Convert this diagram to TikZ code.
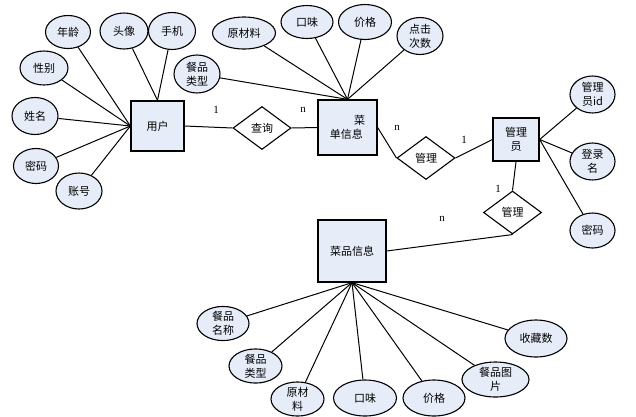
\documentclass[tikz,border=0pt]{standalone}
\usepackage{fontspec}
\setmainfont{Noto Sans CJK SC}
\newfontfamily\cardfont{Liberation Serif}
\usepackage{xcolor}
\usetikzlibrary{shapes,shapes.geometric}
\usetikzlibrary{positioning}
\definecolor{erfill}{RGB}{230,236,248}

\begin{document}
\begin{tikzpicture}[x=1pt,y=-1pt]
\tikzset{entity/.style={rectangle,draw,line width=1.3pt,fill=erfill,inner sep=0pt,font=\fontsize{11}{14}\selectfont},
attr/.style={ellipse,draw,line width=1.1pt,fill=erfill,inner sep=0pt,align=center,minimum width=46pt,minimum height=36pt,font=\fontsize{11}{14}\selectfont},
rel/.style={diamond,draw,line width=1.1pt,fill=white,inner sep=0pt,aspect=1.35,minimum width=58pt,minimum height=43pt,font=\fontsize{11}{14}\selectfont},
card/.style={font=\cardfont\fontsize{11}{13}\selectfont}}
\useasboundingbox (0,0) rectangle (636,416);
% entities and relations
\node[entity,minimum width=53pt,minimum height=50pt](user) at (157.5,126){用户};
\node[rel](query) at (262,128){查询};
\node[entity,minimum width=59pt,minimum height=55pt,align=left](menu) at (347.5,127.5){\hspace*{2.2em}菜\\单信息};
\node[rel](mgrA) at (426,158){管理};
\node[entity,minimum width=46pt,minimum height=43pt,align=center](admin) at (516,139.5){管理\\员};
\node[rel](mgrB) at (512.5,212.5){管理};
\node[entity,minimum width=68pt,minimum height=62pt](dish) at (352,251){菜品信息};
% user attributes
\node[attr,minimum width=45pt,minimum height=33pt](uage) at (68,32){年龄};
\node[attr,minimum width=48pt](uavatar) at (124,31){头像};
\node[attr,minimum width=47pt,minimum height=37pt](uphone) at (172,31){手机};
\node[attr,minimum width=48pt,minimum height=34pt](usex) at (44,68){性别};
\node[attr,minimum height=37pt](uname) at (35,116){姓名};
\node[attr,minimum width=45pt,minimum height=35pt](upwd) at (36,166){密码};
\node[attr](uacct) at (79,191){账号};
\draw[line width=1pt](uage) -- (user.west);
\draw[line width=1pt](usex) -- (user.west);
\draw[line width=1pt](uname) -- (user.west);
\draw[line width=1pt](upwd) -- (user.west);
\draw[line width=1pt](uacct) -- (user.west);
\draw[line width=1pt](uavatar) -- (user.north);
\draw[line width=1pt](uphone) -- (user.north);
% menu attributes
\node[attr,minimum height=38pt](mtype) at (197,74){餐品\\类型};
\node[attr,minimum width=63pt,minimum height=32pt](mraw) at (244,33){原材料};
\node[attr,minimum width=52pt,minimum height=33pt](mtaste) at (307,22){口味};
\node[attr,minimum width=53pt,minimum height=35pt](mprice) at (365,22){价格};
\node[attr,minimum height=37pt](mclick) at (420,36){点击\\次数};
\draw[line width=1pt](mtype) -- (menu.north);
\draw[line width=1pt](mraw) -- (menu.north);
\draw[line width=1pt](mtaste) -- (menu.north);
\draw[line width=1pt](mprice) -- (menu.north);
\draw[line width=1pt](mclick) -- (menu.north);
% admin attributes
\node[attr,minimum width=45pt,minimum height=37pt](aid) at (592.5,94.5){管理\\员id};
\node[attr,minimum width=45pt,minimum height=37pt](alogin) at (592.5,161.5){登录\\名};
\node[attr,minimum width=45pt,minimum height=35pt](apwd) at (592.5,230.5){密码};
\draw[line width=1pt](aid) -- (admin.east);
\draw[line width=1pt](alogin) -- (admin.east);
\draw[line width=1pt](apwd) -- (admin.east);
% dish attributes
\node[attr,minimum width=52pt,minimum height=33pt](dname) at (223,323.5){餐品\\名称};
\node[attr,minimum width=53pt,minimum height=34pt](dtype) at (255.5,366){餐品\\类型};
\node[attr,minimum width=53pt,minimum height=34pt](draw) at (297.5,399){原材\\料};
\node[attr,minimum width=63pt](dtaste) at (365,398){口味};
\node[attr,minimum width=62pt](dprice) at (434,398){价格};
\node[attr,minimum width=67pt,minimum height=35pt](dpic) at (495.5,379.5){餐品图\\片};
\node[attr,minimum width=62pt,minimum height=37pt](dfav) at (536,338.5){收藏数};
\draw[line width=1pt](dname) -- (dish.south);
\draw[line width=1pt](dtype) -- (dish.south);
\draw[line width=1pt](draw) -- (dish.south);
\draw[line width=1pt](dtaste) -- (dish.south);
\draw[line width=1pt](dprice) -- (dish.south);
\draw[line width=1pt](dpic) -- (dish.south);
\draw[line width=1pt](dfav) -- (dish.south);
% relationships
\draw[line width=1pt](user.east) -- (query.west);
\draw[line width=1pt](query.east) -- (menu.west);
\draw[line width=1pt](menu.east) -- (mgrA.west);
\draw[line width=1pt](mgrA.east) -- (admin.west);
\draw[line width=1pt](admin.south) -- (mgrB.north);
\draw[line width=1pt](mgrB.south) -- (dish.east);
\node[card](c1) at (216,110){1};
\node[card](c2) at (303,110){n};
\node[card](c3) at (397,128){n};
\node[card](c4) at (464,140){1};
\node[card](c5) at (498,189){1};
\node[card](c6) at (442,219){n};
\end{tikzpicture}
\end{document}
